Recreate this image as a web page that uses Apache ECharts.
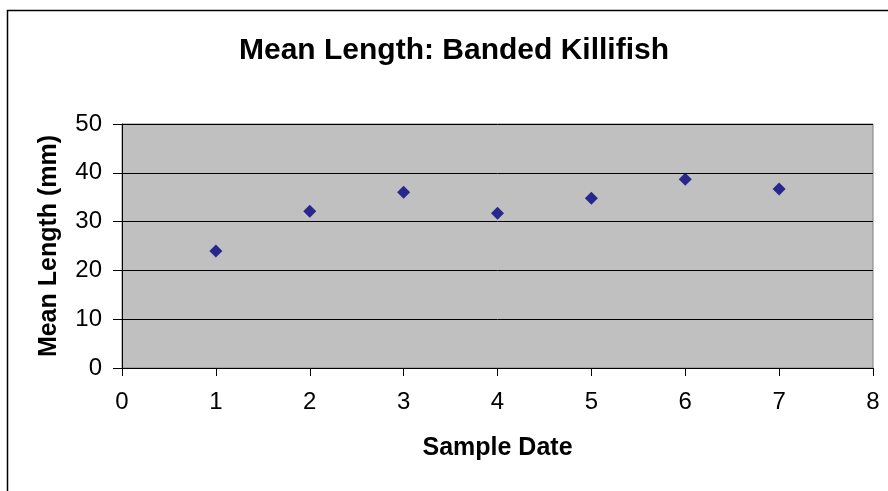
<!DOCTYPE html>
<html><head><meta charset="utf-8">
<script src="https://cdn.jsdelivr.net/npm/echarts@6/dist/echarts.min.js"></script>
<style>html,body{margin:0;padding:0;background:#fff}#c{width:888px;height:491px}</style>
</head><body><div id="c"></div>
<script>
const sampleDates = [1, 2, 3, 4, 5, 6, 7];
const meanLengths = [24.0, 32.1, 36.0, 31.7, 34.8, 38.7, 36.7];
const titleText = 'Mean Length: Banded Killifish';
const xName = 'Sample Date';
const yName = 'Mean Length (mm)';

const chart = echarts.init(document.getElementById('c'), null, {renderer: 'canvas'});
const font = 'Liberation Sans, Arial, sans-serif';
chart.setOption({
  animation: false,
  title: {text: titleText, left: 234, top: 31, textStyle: {fontFamily: font, fontSize: 30, fontWeight: 'bold', color: '#000'}},
  graphic: [{type: 'rect', shape: {x: 7.5, y: 10.5, width: 890, height: 500}, style: {fill: null, stroke: '#000', lineWidth: 1.5}, z: 0, silent: true}],
  grid: {left: 122, top: 124, right: 15, bottom: 123, show: true, backgroundColor: '#c0c0c0', borderColor: '#808080', borderWidth: 1},
  xAxis: {type: 'value', min: 0, max: 8, interval: 1, name: xName, nameLocation: 'middle', nameGap: 68,
    nameTextStyle: {fontFamily: font, fontSize: 25, fontWeight: 'bold', color: '#000'},
    axisLine: {show: true, onZero: false, lineStyle: {color: '#000', width: 1}},
    axisTick: {show: true, length: 8, lineStyle: {color: '#000'}},
    axisLabel: {fontFamily: font, fontSize: 24, color: '#000', margin: 22},
    splitLine: {show: false}},
  yAxis: {type: 'value', min: 0, max: 50, interval: 10, name: yName, nameLocation: 'middle', nameGap: 60,
    nameTextStyle: {fontFamily: font, fontSize: 25, fontWeight: 'bold', color: '#000'},
    axisLine: {show: true, lineStyle: {color: '#000', width: 1}},
    axisTick: {show: true, length: 9, lineStyle: {color: '#000'}},
    axisLabel: {fontFamily: font, fontSize: 24, color: '#000', margin: 20},
    splitLine: {show: true, lineStyle: {color: '#000', width: 1}}},
  series: [{type: 'scatter', symbol: 'diamond', symbolSize: 13, itemStyle: {color: '#000080'},
    data: sampleDates.map((d, i) => [d, meanLengths[i]])}]
});
</script></body></html>
